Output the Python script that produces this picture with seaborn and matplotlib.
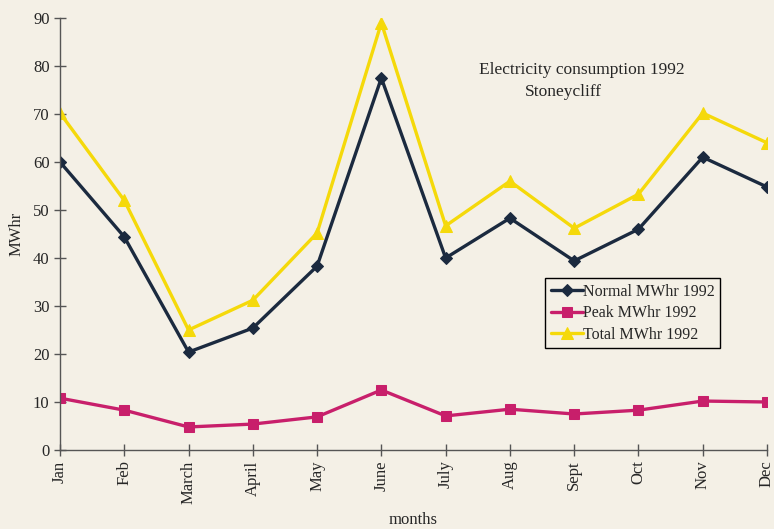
import numpy as np
import pandas as pd
import matplotlib
matplotlib.use("Agg")
import matplotlib.pyplot as plt
import seaborn as sns

months = ["Jan", "Feb", "March", "April", "May", "June", "July", "Aug", "Sept", "Oct", "Nov", "Dec"]
normal = [60.0, 44.4, 20.4, 25.4, 38.3, 77.5, 40.0, 48.3, 39.4, 46.0, 61.0, 54.8]
peak = [10.8, 8.3, 4.8, 5.4, 6.9, 12.5, 7.1, 8.5, 7.5, 8.3, 10.2, 10.0]
total = [70.2, 52.0, 25.0, 31.2, 45.2, 89.0, 46.7, 56.0, 46.2, 53.3, 70.2, 64.0]

bg = "#f4f0e6"
sns.set_theme(style="white")
plt.rcParams["font.family"] = ["Liberation Serif", "DejaVu Serif"]

fig = plt.figure(figsize=(7.74, 5.29), dpi=100, facecolor=bg)
ax = fig.add_axes([60 / 774, 1 - 450 / 529, 707 / 774, 432 / 529])
ax.set_facecolor(bg)

x = np.arange(len(months))
series = [
    ("Normal MWhr 1992", normal, "#1b2a3f", "D", 6.5),
    ("Peak MWhr 1992", peak, "#c81f6b", "s", 7.5),
    ("Total MWhr 1992", total, "#f5d90a", "^", 8.5),
]
for name, vals, col, mk, ms in series:
    sns.lineplot(x=x, y=vals, ax=ax, color=col, marker=mk, markersize=ms,
                 markeredgecolor=col, linewidth=2.4, label=name)

ax.set_xlim(0, 11)
ax.set_ylim(0, 90)
ax.set_yticks(range(0, 91, 10))
ax.set_xticks(x)
ax.set_xticklabels(months, rotation=90, fontsize=12)
ax.tick_params(axis="y", labelsize=12)
ax.tick_params(direction="inout", length=8, width=1, color="#555555", bottom=True, left=True)
for s in ["top", "right"]:
    ax.spines[s].set_visible(False)
for s in ["left", "bottom"]:
    ax.spines[s].set_color("#555555")
    ax.spines[s].set_linewidth(1)

ax.set_xlabel("months", fontsize=12, labelpad=6)
ax.set_ylabel("MWhr", fontsize=12, labelpad=6)

fig.text(479 / 774, 1 - 70 / 529, "Electricity consumption 1992", fontsize=12.5, ha="left", va="center")
fig.text(563 / 774, 1 - 92 / 529, "Stoneycliff", fontsize=12.5, ha="center", va="center")

leg = ax.legend(loc="upper left", bbox_to_anchor=((545 - 60) / 707, (450 - 278) / 432),
                borderaxespad=0, frameon=True, fancybox=False, fontsize=11.5,
                handlelength=2.0, handletextpad=0.0, borderpad=0.35, labelspacing=0.35)
leg.get_frame().set_edgecolor("black")
leg.get_frame().set_linewidth(1)
leg.get_frame().set_facecolor(bg)
leg.get_frame().set_alpha(1)

fig.savefig("out.png", dpi=100, facecolor=bg)
